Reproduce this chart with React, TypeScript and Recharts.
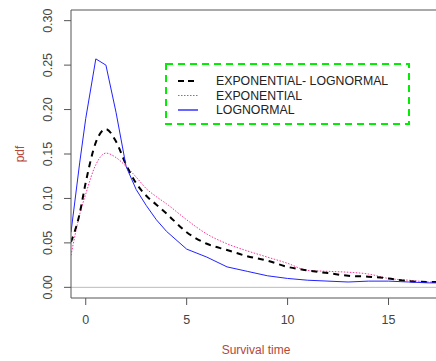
import { LineChart, Line, XAxis, YAxis, ReferenceLine, Label } from 'recharts';

const survivalTime = [-0.73, -0.3, 0, 0.5, 1, 1.5, 2, 2.5, 3, 3.5, 4, 5, 6, 7, 8, 9, 10, 11, 12, 13, 14, 15, 16, 17, 17.6];
const expLognormal = [0.051, 0.083, 0.118, 0.163, 0.178, 0.164, 0.138, 0.117, 0.103, 0.093, 0.083, 0.062, 0.049, 0.042, 0.035, 0.03, 0.023, 0.019, 0.016, 0.013, 0.012, 0.01, 0.007, 0.006, 0.006];
const exponential = [0.036, 0.082, 0.105, 0.138, 0.151, 0.146, 0.136, 0.124, 0.111, 0.102, 0.094, 0.076, 0.06, 0.049, 0.041, 0.034, 0.027, 0.019, 0.018, 0.017, 0.015, 0.01, 0.008, 0.006, 0.0055];
const lognormal = [0.062, 0.14, 0.19, 0.257, 0.25, 0.197, 0.136, 0.11, 0.092, 0.076, 0.063, 0.043, 0.034, 0.023, 0.018, 0.013, 0.01, 0.008, 0.007, 0.006, 0.007, 0.007, 0.006, 0.005, 0.005];

const xTicks = [0, 5, 10, 15];
const yTicks = [0, 0.05, 0.1, 0.15, 0.2, 0.25, 0.3];
const legendNames = ['EXPONENTIAL- LOGNORMAL', 'EXPONENTIAL', 'LOGNORMAL'];

const data = survivalTime.map((t, i) => ({
  t,
  expLog: expLognormal[i],
  expo: exponential[i],
  logn: lognormal[i],
}));

const font = '"Liberation Sans", Arial, sans-serif';
const axisColor = '#555';
const titleColor = '#b5473a';

const YTick = ({ y, payload }: any) => (
  <text x={48} y={y} transform={`rotate(-90, 48, ${y})`} textAnchor="middle" dominantBaseline="central"
    fontSize={12.5} fill="#444" fontFamily={font}>
    {payload.value.toFixed(2)}
  </text>
);

const XTick = ({ x, payload }: any) => (
  <text x={x} y={320} textAnchor="middle" dominantBaseline="central" fontSize={12.5} fill="#444" fontFamily={font}>
    {payload.value}
  </text>
);

function LegendBox() {
  const rows = [
    { stroke: '#000', dash: '6 4', width: 2 },
    { stroke: '#ff3399', dash: '1.5 1.5', width: 1.2 },
    { stroke: '#0000ff', dash: undefined, width: 1.2 },
  ];
  return (
    <svg width={436} height={361} style={{ position: 'absolute', left: 0, top: 0, pointerEvents: 'none' }}>
      <rect x={166} y={64} width={243} height={60} fill="white" stroke="#00ee00" strokeWidth={2} strokeDasharray="7 5" />
      {rows.map((r, i) => (
        <g key={i}>
          <line x1={178} x2={198} y1={81 + i * 14.5} y2={81 + i * 14.5} stroke={r.stroke} strokeWidth={r.width} strokeDasharray={r.dash} />
          <text x={216} y={81 + i * 14.5} dominantBaseline="central" fontSize={12.3} fill="#222" fontFamily={font}>
            {legendNames[i]}
          </text>
        </g>
      ))}
    </svg>
  );
}

export default function App() {
  return (
    <div style={{ position: 'absolute', left: 0, top: 0, width: 436, height: 361, overflow: 'hidden', background: '#fff' }}>
      <LineChart width={441} height={361} data={data} margin={{ top: 10, right: 0, bottom: 0, left: 0 }}>
        <XAxis dataKey="t" type="number" domain={[-0.73, 17.6]} ticks={xTicks} height={63} tickSize={7}
          stroke={axisColor} tick={<XTick />} allowDataOverflow>
          <Label content={({ viewBox }: any) => (
            <text x={viewBox.x + viewBox.width / 2} y={350} textAnchor="middle" dominantBaseline="central"
              fontSize={12} fill={titleColor} fontFamily={font}>Survival time</text>
          )} />
        </XAxis>
        <YAxis type="number" domain={[-0.012, 0.312]} ticks={yTicks} width={71} tickSize={7}
          stroke={axisColor} tick={<YTick />} allowDataOverflow>
          <Label content={({ viewBox }: any) => (
            <text x={20} y={viewBox.y + viewBox.height / 2} transform={`rotate(-90, 20, ${viewBox.y + viewBox.height / 2})`}
              textAnchor="middle" dominantBaseline="central" fontSize={12} fill={titleColor} fontFamily={font}>pdf</text>
          )} />
        </YAxis>
        <ReferenceLine y={0.312} stroke={axisColor} />
        <ReferenceLine y={0} stroke="#bbb" />
        <Line type="monotone" dataKey="expo" stroke="#ff3399" strokeWidth={1} strokeDasharray="1.5 1.5" dot={false} isAnimationActive={false} />
        <Line type="monotone" dataKey="expLog" stroke="#000" strokeWidth={2} strokeDasharray="6 5" dot={false} isAnimationActive={false} />
        <Line type="linear" dataKey="logn" stroke="#2222ff" strokeWidth={1} dot={false} isAnimationActive={false} />
      </LineChart>
      <LegendBox />
    </div>
  );
}
